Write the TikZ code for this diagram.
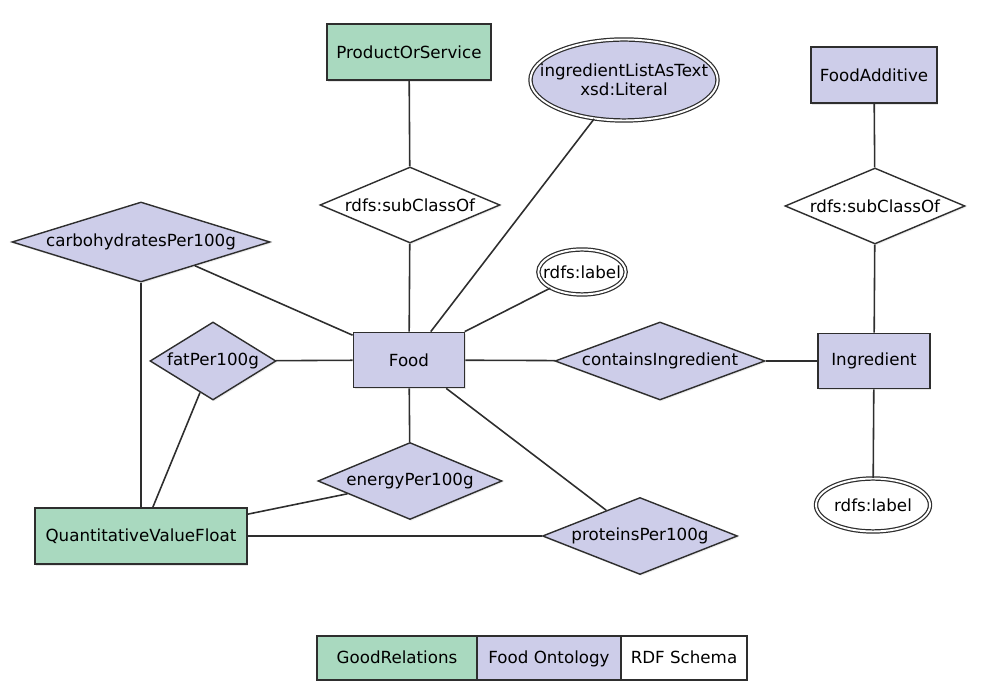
\documentclass[tikz,border=0pt]{standalone}
\usepackage{fontspec}
\setmainfont{DejaVu Sans}
\usetikzlibrary{positioning,shapes.geometric,shadows}
\definecolor{edge}{HTML}{2E2E2E}
\definecolor{goodrel}{HTML}{A9D9BF}
\definecolor{foodont}{HTML}{CDCDE9}
\tikzset{cls/.style={draw=edge,line width=1pt,fill=foodont,font=\fontsize{9.5}{11}\selectfont,inner sep=0pt,drop shadow={opacity=0.2,shadow xshift=0.6pt,shadow yshift=-0.9pt}}, gr/.style={cls,fill=goodrel}, prop/.style={diamond,draw=edge,line width=0.8pt,fill=foodont,font=\fontsize{9.5}{11}\selectfont,inner sep=0pt,drop shadow={opacity=0.15,shadow xshift=0.6pt,shadow yshift=-0.9pt}}, rdfs/.style={prop,fill=white,aspect=2.4}, lit/.style={ellipse,draw=edge,double,double distance=1.1pt,line width=0.7pt,fill=white,font=\fontsize{9.5}{11}\selectfont,inner sep=0pt}, link/.style={draw=edge,line width=0.9pt}, legend/.style={draw=edge,line width=0.8pt,font=\fontsize{9.5}{11}\selectfont,minimum height=8.8mm,outer sep=0pt,inner sep=0pt,text height=1.6ex,text depth=0.45ex}}

\begin{document}
\begin{tikzpicture}[x=1cm,y=1cm]
\useasboundingbox (0,0) rectangle (19.76,13.8);
\node[gr,minimum width=3.28cm,minimum height=1.12cm] (pos) at (8.18,12.76) {ProductOrService};
\node[lit,fill=foodont,inner xsep=-3.6mm,minimum width=3.54cm,minimum height=1.62cm,align=center] (ilist) at (12.48,12.2) {ingredientListAsText\\xsd:Literal};
\node[cls,minimum width=2.52cm,minimum height=1.12cm] (additive) at (17.48,12.3) {FoodAdditive};
\node[rdfs,minimum width=3.6cm,minimum height=1.52cm] (sub1) at (8.2,9.7) {rdfs:subClassOf};
\node[rdfs,minimum width=3.6cm,minimum height=1.52cm] (sub2) at (17.5,9.68) {rdfs:subClassOf};
\node[prop,aspect=3.2,minimum width=5.16cm,minimum height=1.6cm] (carbs) at (2.82,8.96) {carbohydratesPer100g};
\node[lit,inner xsep=-1.6mm,minimum width=1.68cm,minimum height=0.9cm] (label1) at (11.64,8.36) {rdfs:label};
\node[prop,aspect=1.6,minimum width=2.52cm,minimum height=1.56cm] (fat) at (4.26,6.58) {fatPer100g};
\node[cls,minimum width=2.22cm,minimum height=1.1cm] (food) at (8.18,6.6) {Food};
\node[prop,aspect=2.7,minimum width=4.2cm,minimum height=1.56cm] (contains) at (13.2,6.58) {containsIngredient};
\node[cls,minimum width=2.24cm,minimum height=1.1cm] (ingr) at (17.48,6.58) {Ingredient};
\node[prop,aspect=2.4,minimum width=3.68cm,minimum height=1.54cm] (energy) at (8.2,4.18) {energyPer100g};
\node[lit,minimum width=2.28cm,minimum height=1.06cm] (label2) at (17.46,3.7) {rdfs:label};
\node[gr,minimum width=4.24cm,minimum height=1.12cm] (qvf) at (2.82,3.08) {QuantitativeValueFloat};
\node[prop,aspect=2.5,minimum width=3.9cm,minimum height=1.54cm] (proteins) at (12.8,3.08) {proteinsPer100g};
\draw[link] (pos)--(sub1);\draw[link] (sub1)--(food);
\draw[link] (additive)--(sub2);\draw[link] (sub2)--(ingr);
\draw[link] (ilist)--(food);\draw[link] (label1)--(food);
\draw[link] (carbs)--(food);\draw[link] (carbs)--(qvf);
\draw[link] (fat)--(food);\draw[link] (fat)--(qvf);
\draw[link] (food)--(contains);\draw[link] (contains)--(ingr);\draw[link] (ingr)--(label2);
\draw[link] (food)--(energy);\draw[link] (energy)--(qvf);
\draw[link] (food)--(proteins);\draw[link] (qvf)--(proteins);
% legend
\node[legend,fill=goodrel,minimum width=3.2cm] (leggr) at (7.94,0.64) {GoodRelations};
\node[legend,fill=foodont,minimum width=2.88cm,right=0pt of leggr] (legfo) {Food Ontology};
\node[legend,fill=white,minimum width=2.52cm,right=0pt of legfo] (legrdf) {RDF Schema};
\end{tikzpicture}
\end{document}
